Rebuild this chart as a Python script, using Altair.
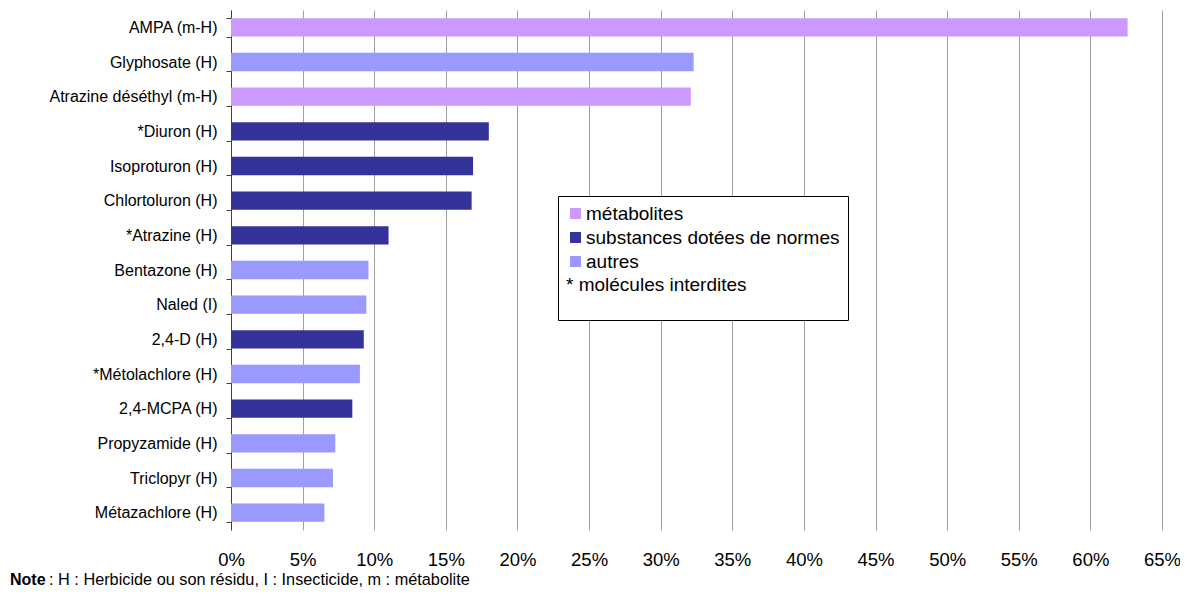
import altair as alt
import pandas as pd

molecules = [
    "AMPA (m-H)", "Glyphosate (H)", "Atrazine déséthyl (m-H)", "*Diuron (H)",
    "Isoproturon (H)", "Chlortoluron (H)", "*Atrazine (H)", "Bentazone (H)",
    "Naled (I)", "2,4-D (H)", "*Métolachlore (H)", "2,4-MCPA (H)",
    "Propyzamide (H)", "Triclopyr (H)", "Métazachlore (H)",
]
values = [62.6, 32.3, 32.1, 18.0, 16.9, 16.8, 11.0, 9.6, 9.45, 9.27, 9.0, 8.47, 7.28, 7.12, 6.52]
groups = [
    "métabolites", "autres", "métabolites", "substances dotées de normes",
    "substances dotées de normes", "substances dotées de normes", "substances dotées de normes",
    "autres", "autres", "substances dotées de normes", "autres",
    "substances dotées de normes", "autres", "autres", "autres",
]
group_order = ["métabolites", "substances dotées de normes", "autres"]
group_colors = ["#CC99FF", "#333399", "#9999FF"]
tick_values = list(range(0, 70, 5))
note_bold = ["Note"]
note_rest = [": H : Herbicide ou son résidu, I : Insecticide, m : métabolite"]

df = pd.DataFrame({"molecule": molecules, "value": values, "groupe": groups})

FONT = "Liberation Sans"

bars = alt.Chart(df).mark_bar().encode(
    y=alt.Y(
        "molecule:N", sort=None, title=None,
        scale=alt.Scale(paddingInner=0.47, paddingOuter=0.235),
        axis=alt.Axis(
            tickBand="extent", tickSize=5, tickColor="#404040", domainColor="#404040",
            labelFont=FONT, labelFontSize=16, labelColor="#000000", labelPadding=9,
            grid=False, labelLimit=300,
        ),
    ),
    x=alt.X(
        "value:Q", title=None,
        scale=alt.Scale(domain=[0, 65], nice=False),
        axis=alt.Axis(
            values=tick_values, labelExpr="datum.value + '%'", domain=False, ticks=False,
            grid=True, gridColor="#a0a0a0", gridWidth=1, labelFlush=False, labelOverlap=False,
            labelFont=FONT, labelFontSize=18.5, labelColor="#000000", labelPadding=20,
        ),
    ),
    color=alt.Color(
        "groupe:N",
        scale=alt.Scale(domain=group_order, range=group_colors),
        legend=alt.Legend(
            orient="none", legendX=327, legendY=186,
            title=["* molécules interdites", " "], titleOrient="bottom", titleAnchor="start",
            titleFont=FONT, titleFontSize=19, titleFontWeight="normal", titleColor="#000000",
            titlePadding=4, titleLineHeight=17, titleLimit=400,
            labelFont=FONT, labelFontSize=19, labelColor="#000000", labelOffset=1, labelLimit=400,
            symbolType="square", symbolSize=121, symbolStrokeWidth=0,
            rowPadding=4, padding=8, strokeColor="#000000", fillColor="#ffffff",
        ),
    ),
)

note1 = alt.Chart(pd.DataFrame({"t": note_bold})).mark_text(
    align="left", baseline="alphabetic", font=FONT, fontSize=16, fontWeight="bold", color="#000000"
).encode(text="t:N", x=alt.value(-221), y=alt.value(575))

note2 = alt.Chart(pd.DataFrame({"t": note_rest})).mark_text(
    align="left", baseline="alphabetic", font=FONT, fontSize=16.3, color="#000000"
).encode(text="t:N", x=alt.value(-182), y=alt.value(575))

chart = alt.layer(bars, note1, note2).properties(
    width=931, height=520,
    autosize=alt.AutoSizeParams(type="none"),
    padding={"left": 223, "top": 2, "right": 18, "bottom": 58},
).configure_view(stroke=None)

chart.save("out.html", embed_options={"renderer": "svg", "actions": False})
